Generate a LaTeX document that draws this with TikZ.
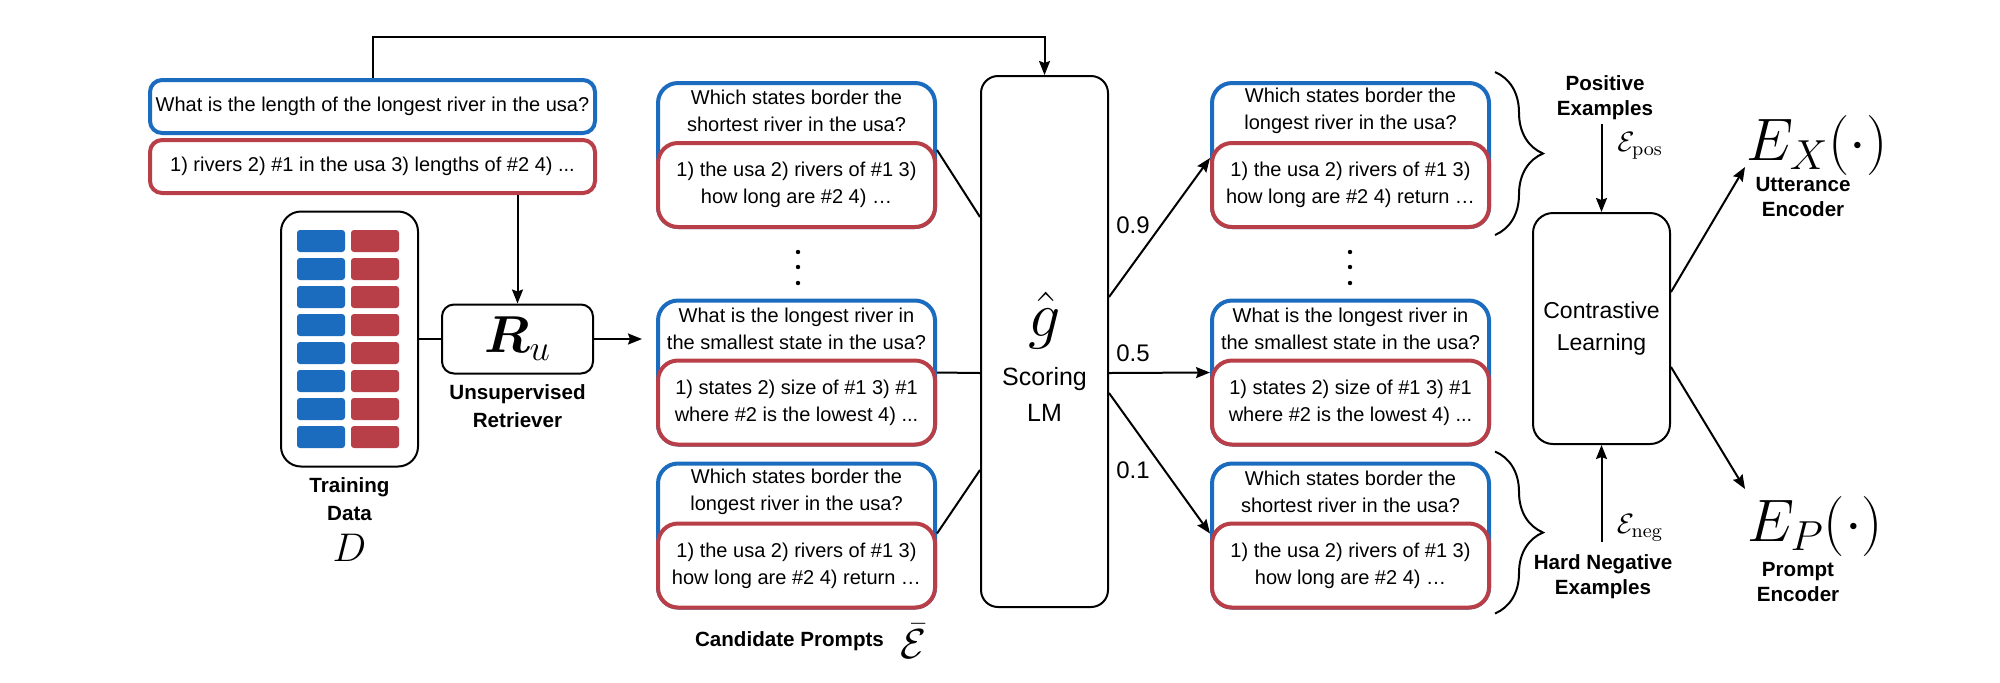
\RequirePackage{fix-cm}
\documentclass[tikz,border=0pt]{standalone}
\usepackage{amsmath, amssymb}
\usepackage[no-math]{fontspec}
\setmainfont{Liberation Sans}
\usepackage{xcolor}
\usetikzlibrary{arrows.meta, positioning, decorations.pathreplacing}

\definecolor{qblue}{RGB}{27,108,190}
\definecolor{dred}{RGB}{184,63,72}

\begin{document}
\begin{tikzpicture}[x=0.5pt, y=-0.5pt,
    qframe/.style={draw=qblue, line width=2pt, rounded corners=10pt, fill=white, minimum width=138.5pt, minimum height=72pt, inner sep=0pt},
    qtext/.style={inner sep=0pt, align=center, font=\fontsize{10}{13.5}\selectfont},
    dbox/.style={draw=dred, line width=2pt, rounded corners=10pt, fill=white, minimum width=138.5pt, minimum height=42pt, inner sep=0pt, align=center, font=\fontsize{10}{13.5}\selectfont},
    blk/.style={draw, line width=1pt, fill=white, inner sep=0pt},
    lbl/.style={inner sep=0pt, align=center, font=\fontsize{10.3}{12.5}\selectfont\bfseries},
    num/.style={inner sep=0pt, font=\fontsize{12}{12}\selectfont},
    arr/.style={-{Stealth[length=7pt, width=5.5pt, inset=1pt]}, line width=1pt},
    ln/.style={line width=1pt},
    brc/.style={decorate, decoration={brace, amplitude=24pt}, line width=1pt}
]

    \useasboundingbox (0,0) rectangle (2000,682);

    % Input utterance and its decomposition
    \node[qframe, qtext, minimum width=222.5pt, minimum height=26.5pt, rounded corners=6pt] (user_q) at (372.5,106.5) {What is the length of the longest river in the usa?};
    \node[dbox, minimum width=222.5pt, minimum height=26.5pt, rounded corners=6pt] (user_d) at (372.5,166.5) {1) rivers 2) \#1 in the usa 3) lengths of \#2 4) ...};

    % Training data
    \node[blk, rounded corners=10pt, minimum width=68.5pt, minimum height=127.5pt] (train_data) at (349.5,339) {};
    \foreach \i in {0,...,7} {
        \fill[qblue, rounded corners=1.5pt] (297,230+28*\i) rectangle (345,252+28*\i);
        \fill[dred, rounded corners=1.5pt] (351,230+28*\i) rectangle (399,252+28*\i);
    }
    \node[lbl, below=5pt of train_data, font=\fontsize{10.3}{14}\selectfont\bfseries] (train_label) {Training\\Data};
    \node[below=6pt of train_label, inner sep=0pt, font=\fontsize{20}{20}\selectfont] (train_sym) {$D$};

    % Unsupervised retriever
    \node[blk, rounded corners=6pt, minimum width=75.5pt, minimum height=34.5pt, font=\fontsize{26}{26}\selectfont] (retriever) at (517.5,339) {$\boldsymbol{R}_u$};
    \node[lbl, below=5pt of retriever, font=\fontsize{10.3}{14}\selectfont\bfseries] (ret_label) {Unsupervised\\Retriever};
    \coordinate (ret_out) at (642,339);

    \draw[arr] (retriever.north |- user_d.south) -- (retriever.north);
    \draw[ln] (train_data.east) -- (retriever.west);
    \draw[arr] (retriever.east) -- (ret_out);

    % Candidate prompts
    \node[qframe] (cand_a) at (796.5,155) {};
    \node[qtext] (cand_a_q) at ([yshift=-15pt]cand_a.north) {Which states border the\\shortest river in the usa?};
    \node[dbox, above=0pt of cand_a.south] (cand_a_d) {1) the usa 2) rivers of \#1 3)\\how long are \#2 4) …};

    \node[qframe] (cand_b) at (796.5,372.5) {};
    \node[qtext] (cand_b_q) at ([yshift=-15pt]cand_b.north) {What is the longest river in\\the smallest state in the usa?};
    \node[dbox, above=0pt of cand_b.south] (cand_b_d) {1) states 2) size of \#1 3) \#1\\where \#2 is the lowest 4) ...};

    \node[qframe] (cand_c) at (796.5,535.5) {};
    \node[qtext] (cand_c_q) at ([yshift=-15pt]cand_c.north) {Which states border the\\longest river in the usa?};
    \node[dbox, above=0pt of cand_c.south] (cand_c_d) {1) the usa 2) rivers of \#1 3)\\how long are \#2 4) return …};

    \foreach \y in {252,267,283} {
        \fill (798,\y) circle (1.1pt);
        \fill (1350,\y) circle (1.1pt);
    }

    \node[lbl, below=11pt of cand_c, xshift=-3.5pt] (cand_label) {Candidate Prompts};
    \node[right=8pt of cand_label, inner sep=0pt, font=\fontsize{21}{21}\selectfont] (cand_sym) {$\bar{\mathcal{E}}$};

    % Scoring LM
    \node[blk, rounded corners=8.5pt, minimum width=63.5pt, minimum height=265.5pt] (lm) at (1044.5,341.5) {};
    \node[inner sep=0pt, font=\fontsize{32}{32}\selectfont] (lm_sym) at (1044.5,320) {$\hat{g}$};
    \node[inner sep=0pt, align=center, font=\fontsize{12.5}{18}\selectfont] (lm_label) at (1044.5,394) {Scoring\\LM};

    \coordinate (top_bend) at (372.5,37);
    \draw[arr] (user_q.north) -- (top_bend) -| (lm.north);

    \draw[ln] ([yshift=-4.5pt]cand_a_d.north east) -- ([yshift=62.25pt]lm.west);
    \draw[ln] ([yshift=-7pt]cand_b_d.north east) -- ([yshift=-15.75pt]lm.west);
    \draw[ln] ([yshift=-6pt]cand_c_d.north east) -- ([yshift=-64.25pt]lm.west);

    % Scored prompts
    \node[qframe] (res_a) at (1350.5,155) {};
    \node[qtext] (res_a_q) at ([yshift=-15pt]res_a.north) {Which states border the\\longest river in the usa?};
    \node[dbox, above=0pt of res_a.south] (res_a_d) {1) the usa 2) rivers of \#1 3)\\how long are \#2 4) return …};

    \node[qframe] (res_b) at (1350.5,372.5) {};
    \node[qtext] (res_b_q) at ([yshift=-15pt]res_b.north) {What is the longest river in\\the smallest state in the usa?};
    \node[dbox, above=0pt of res_b.south] (res_b_d) {1) states 2) size of \#1 3) \#1\\where \#2 is the lowest 4) ...};

    \node[qframe] (res_c) at (1350.5,535.5) {};
    \node[qtext] (res_c_q) at ([yshift=-15pt]res_c.north) {Which states border the\\shortest river in the usa?};
    \node[dbox, above=0pt of res_c.south] (res_c_d) {1) the usa 2) rivers of \#1 3)\\how long are \#2 4) …};

    \draw[arr] ([yshift=22.25pt]lm.east) -- ([yshift=-8.5pt]res_a_d.north west);
    \draw[arr] ([yshift=-15.75pt]lm.east) -- ([yshift=-7pt]res_b_d.north west);
    \draw[arr] ([yshift=-25.75pt]lm.east) -- ([yshift=-6pt]res_c_d.north west);

    \node[num] (score_a) at (1133,225) {0.9};
    \node[num] (score_b) at (1133,353) {0.5};
    \node[num] (score_c) at (1133,470) {0.1};

    % Positive / hard negative groups
    \draw[brc] ([shift={(2pt,4.5pt)}]res_a.north east) -- ([shift={(2pt,-3pt)}]res_a.south east);
    \draw[brc] ([shift={(2pt,5pt)}]res_c.north east) -- ([shift={(2pt,-2pt)}]res_c.south east);

    % Contrastive learning
    \node[blk, rounded corners=10pt, minimum width=68.5pt, minimum height=115.5pt, align=center, font=\fontsize{11.5}{16}\selectfont] (contrast) at (1601.5,328.5) {Contrastive\\Learning};

    \node[lbl] (pos_label) at (1605,97.5) {Positive\\Examples};
    \node[inner sep=0pt, font=\fontsize{14}{14}\selectfont] (pos_sym) at (1640,146) {$\mathcal{E}_{\mathrm{pos}}$};
    \coordinate (pos_in) at (1601.5,124);
    \draw[arr] (pos_in) -- (contrast.north);

    \node[lbl] (neg_label) at (1603,577) {Hard Negative\\Examples};
    \node[inner sep=0pt, font=\fontsize{14}{14}\selectfont] (neg_sym) at (1640,528) {$\mathcal{E}_{\mathrm{neg}}$};
    \coordinate (neg_in) at (1601.5,542);
    \draw[arr] (neg_in) -- (contrast.south);

    % Encoders
    \node[inner sep=0pt, font=\fontsize{30}{30}\selectfont] (enc_x) at (1817,145) {$E_X(\cdot)$};
    \node[lbl] (enc_x_label) at (1803,197.5) {Utterance\\Encoder};
    \node[inner sep=0pt, font=\fontsize{30}{30}\selectfont] (enc_p) at (1815,526) {$E_P(\cdot)$};
    \node[lbl] (enc_p_label) at (1798,581.5) {Prompt\\Encoder};

    \coordinate (enc_x_in) at (1745,167);
    \coordinate (enc_p_in) at (1745,489);
    \draw[arr] ([yshift=18.25pt]contrast.east) -- (enc_x_in);
    \draw[arr] ([yshift=-19.25pt]contrast.east) -- (enc_p_in);

\end{tikzpicture}
\end{document}
